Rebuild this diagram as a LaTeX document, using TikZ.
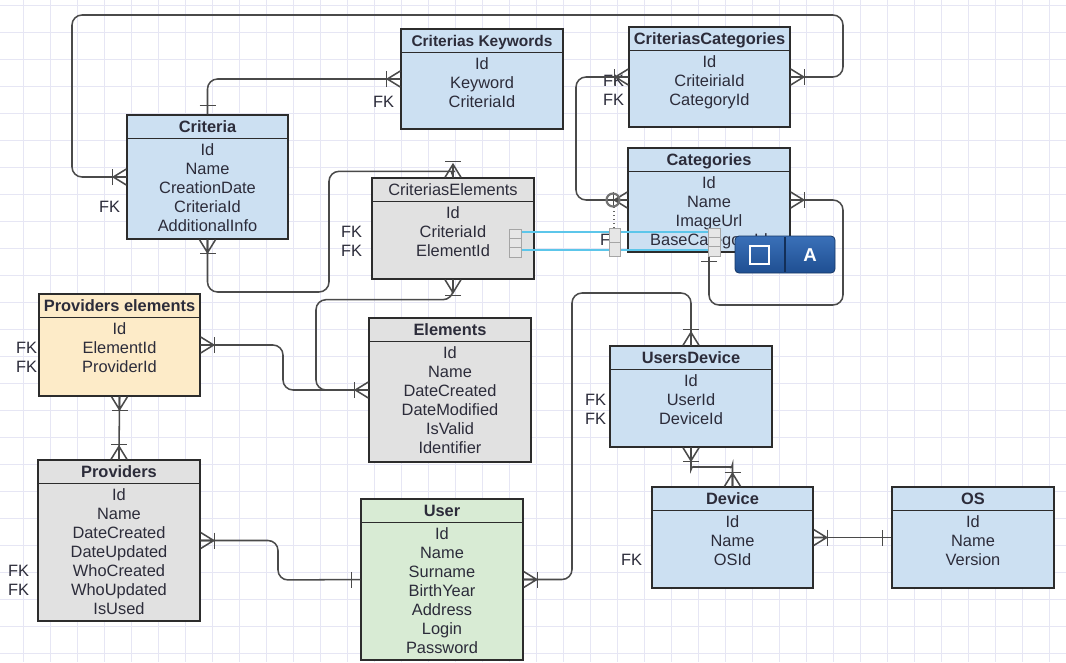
\documentclass[tikz,border=0pt]{standalone}
\usepackage{fontspec}
\setmainfont{Liberation Sans}
\usetikzlibrary{calc,fit}

\definecolor{boxline}{HTML}{2C2C2C}
\definecolor{connline}{HTML}{4A4A4A}
\definecolor{txt}{HTML}{2C2C3A}
\definecolor{bluefill}{HTML}{CCE0F2}
\definecolor{greyfill}{HTML}{E1E1E1}
\definecolor{yellowfill}{HTML}{FDEBC8}
\definecolor{greenfill}{HTML}{D8EBD4}
\definecolor{gridcol}{HTML}{E6E6F4}
\definecolor{linkblue}{HTML}{5CC6EA}
\definecolor{handlefill}{HTML}{E6E6E6}
\definecolor{handleline}{HTML}{A5A5A5}
\definecolor{barblue}{HTML}{1F4F92}
\definecolor{barblue2}{HTML}{3A70B8}

% An entity table: name, top-left, bottom-right, fill, title style, title, rows
\newcommand{\ertable}[7]{%
  \node[tablebox, fill=#4, fit={(#2) (#3)}] (#1) {};
  \draw[headrule] ($(#1.north west)+(0,24)$) -- ($(#1.north east)+(0,24)$);
  \node[#5] (#1-title) at ($(#1.north)+(0,18)$) {#6};
  \foreach \rowname [count=\i] in {#7} {
    \node[rowtext] (#1-\i) at ($(#1.north)+(0,{24+17+19*(\i-1)})$) {\rowname};
  }
}
% FK tag left of a row: table, row number, gap to the box
\newcommand{\fk}[3]{%
  \node[fktext] (#1-fk#2) at ($(#1.north west)+(-#3,{24+17+19*(#2-1)})$) {FK};
}
% crow's foot with a bar (one or many); optional bar distance
\newcommand{\manyend}[3][14]{%
  \begin{scope}[shift={(#2)}, rotate=#3]
    \draw[tick] (0,-8) -- (13,0) -- (0,8) (0,0) -- (13,0);
    \draw[tick] (#1,-8) -- (#1,8);
  \end{scope}
}
% single bar (exactly one)
\newcommand{\oneend}[3][9]{%
  \begin{scope}[shift={(#2)}, rotate=#3]
    \draw[tick] (#1,-8) -- (#1,8);
  \end{scope}
}

\begin{document}
\begin{tikzpicture}[x=0.75pt, y=-0.75pt,
  tablebox/.style={draw=boxline, line width=1pt, inner sep=0pt},
  headrule/.style={draw=boxline, line width=1pt},
  conn/.style={draw=connline, line width=1.15pt, rounded corners=7.5pt},
  tick/.style={draw=connline, line width=1.15pt},
  rowtext/.style={text=txt, font=\fontsize{12.3}{14}\selectfont, inner sep=0pt, anchor=base},
  titlebold/.style={rowtext, font=\fontsize{12.3}{14}\selectfont\bfseries},
  titleplain/.style={rowtext},
  titlenarrow/.style={rowtext, font=\fontsize{11.6}{14}\selectfont\bfseries},
  fktext/.style={rowtext, anchor=base east},
  gridline/.style={draw=gridcol, line width=0.6pt},
  handlebox/.style={draw=handleline, fill=handlefill, line width=0.6pt},
  selline/.style={draw=linkblue, line width=1.1pt},
]
\fill[white] (0,0) rectangle (1066,662);
\useasboundingbox (0,0) rectangle (1066,662);

% background grid
\foreach \gx in {23,50,...,1066} \draw[gridline] (\gx,0) -- (\gx,662);
\foreach \gy in {5,32,...,662} \draw[gridline] (0,\gy) -- (1066,\gy);

% tables
\ertable{crit}{127,115}{288,239}{bluefill}{titlebold}{Criteria}{Id,Name,CreationDate,CriteriaId,AdditionalInfo}
\ertable{kw}{401,29}{563,129}{bluefill}{titlenarrow}{Criterias Keywords}{Id,Keyword,CriteriaId}
\ertable{cc}{629,27}{790,127}{bluefill}{titlebold}{CriteriasCategories}{Id,CriteiriaId,CategoryId}
\ertable{cat}{628,148}{790,252}{bluefill}{titlebold}{Categories}{Id,Name,ImageUrl,BaseCategoryId}
\ertable{ce}{372,178}{534,279}{greyfill}{titleplain}{CriteriasElements}{Id,CriteriaId,ElementId}
\ertable{pe}{39,294}{200,396}{yellowfill}{titlebold}{Providers elements}{Id,ElementId,ProviderId}
\ertable{el}{369,318}{531,462}{greyfill}{titlebold}{Elements}{Id,Name,DateCreated,DateModified,IsValid,Identifier}
\ertable{ud}{610,346}{772,447}{bluefill}{titlebold}{UsersDevice}{Id,UserId,DeviceId}
\ertable{dev}{652,487}{813,588}{bluefill}{titlebold}{Device}{Id,Name,OSId}
\ertable{os}{892,487}{1054,588}{bluefill}{titlebold}{OS}{Id,Name,Version}
\ertable{prov}{38,460}{200,621}{greyfill}{titlebold}{Providers}{Id,Name,DateCreated,DateUpdated,WhoCreated,WhoUpdated,IsUsed}
\ertable{usr}{361,499}{523,660}{greenfill}{titlebold}{User}{Id,Name,Surname,BirthYear,Address,Login,Password}

% foreign keys
\fk{crit}{4}{6}
\fk{kw}{3}{6}
\fk{cc}{2}{4} \fk{cc}{3}{4}
\fk{cat}{4}{6}
\fk{ce}{2}{9} \fk{ce}{3}{9}
\fk{pe}{2}{1} \fk{pe}{3}{1}
\fk{ud}{2}{3} \fk{ud}{3}{3}
\fk{dev}{3}{9}
\fk{prov}{5}{8} \fk{prov}{6}{8}

% relations
\draw[conn] (crit.north) |- (kw.west);
\draw[conn] (crit.west) -| (72,15) -| (843,77) -- (cc.east);
\draw[conn] (cc.west) -| (576,200) -- (cat.west);
\draw[conn] (cat.east) -| (843,305) -| (cat.south);
\draw[conn] (crit.south) |- (329,292) |- ($(ce.north)+(-8,-6)$) [sharp corners] to[out=0,in=90] (ce.north);
\draw[conn] (ce.south) -- ++(0,20) -| (316,390) -- (el.west);
\draw[conn] (pe.east) -| (283,390) -- (el.west);
\draw[conn] (pe.south) -- (prov.north);
\draw[conn] (prov.east) -| (278,580) -- (usr.west);
\draw[conn] (usr.east) -| (572,293) -| (ud.north);
\draw[conn] (ud.south) -- ++(0,12) to[out=270,in=180] (703,467) -- (722,467)
  to[out=0,in=90] ($(dev.north)+(0,-12)$) -- (dev.north);
\draw[conn] (dev.east) -- (os.west);

% cardinality marks
\oneend{crit.north}{90}
\manyend{kw.west}{180}
\manyend{crit.west}{180}
\manyend{cc.east}{0}
\manyend{cc.west}{180}
\manyend{cat.west}{180}
\manyend{cat.east}{0}
\oneend{cat.south}{270}
\manyend{crit.south}{270}
\manyend[16]{ce.north}{90}
\manyend[16]{ce.south}{270}
\manyend{el.west}{180}
\manyend{pe.east}{0}
\manyend{pe.south}{270}
\manyend[15]{prov.north}{90}
\manyend{prov.east}{0}
\oneend{usr.west}{180}
\manyend{usr.east}{0}
\manyend[16]{ud.north}{90}
\manyend{ud.south}{270}
\manyend{dev.north}{90}
\manyend{dev.east}{0}
\oneend{os.west}{180}

% editor selection: link lines, handles and the toolbar
\draw[selline] (521,232) -- (708,232);
\draw[selline] (521,250) -- (708,250);
\draw[draw=gray!90!black, line width=1.6pt] (613,200) circle (6.5);
\draw[draw=gray!80!black, dotted, line width=1pt] (614,207) -- (614,228);
\foreach \ya/\yb in {229/238,238/247,247/257} \draw[handlebox] (509,\ya) rectangle (521,\yb);
\foreach \ya/\yb in {228/242,242/256} \draw[handlebox] (609,\ya) rectangle (620,\yb);
\foreach \ya/\yb in {228/237,237/246,246/256} \draw[handlebox] (708,\ya) rectangle (720,\yb);
\draw[draw=barblue!70!black, top color=barblue2, bottom color=barblue, rounded corners=3pt, line width=0.6pt] (735,236) rectangle (835,273);
\draw[draw=barblue!60!black, line width=0.8pt] (785,237) -- (785,272);
\draw[draw=white, line width=1pt] (750,246) rectangle (769,264);
\node[text=white, font=\fontsize{14}{14}\selectfont\bfseries, inner sep=0pt] (toolA) at (810,255) {A};
\end{tikzpicture}
\end{document}
